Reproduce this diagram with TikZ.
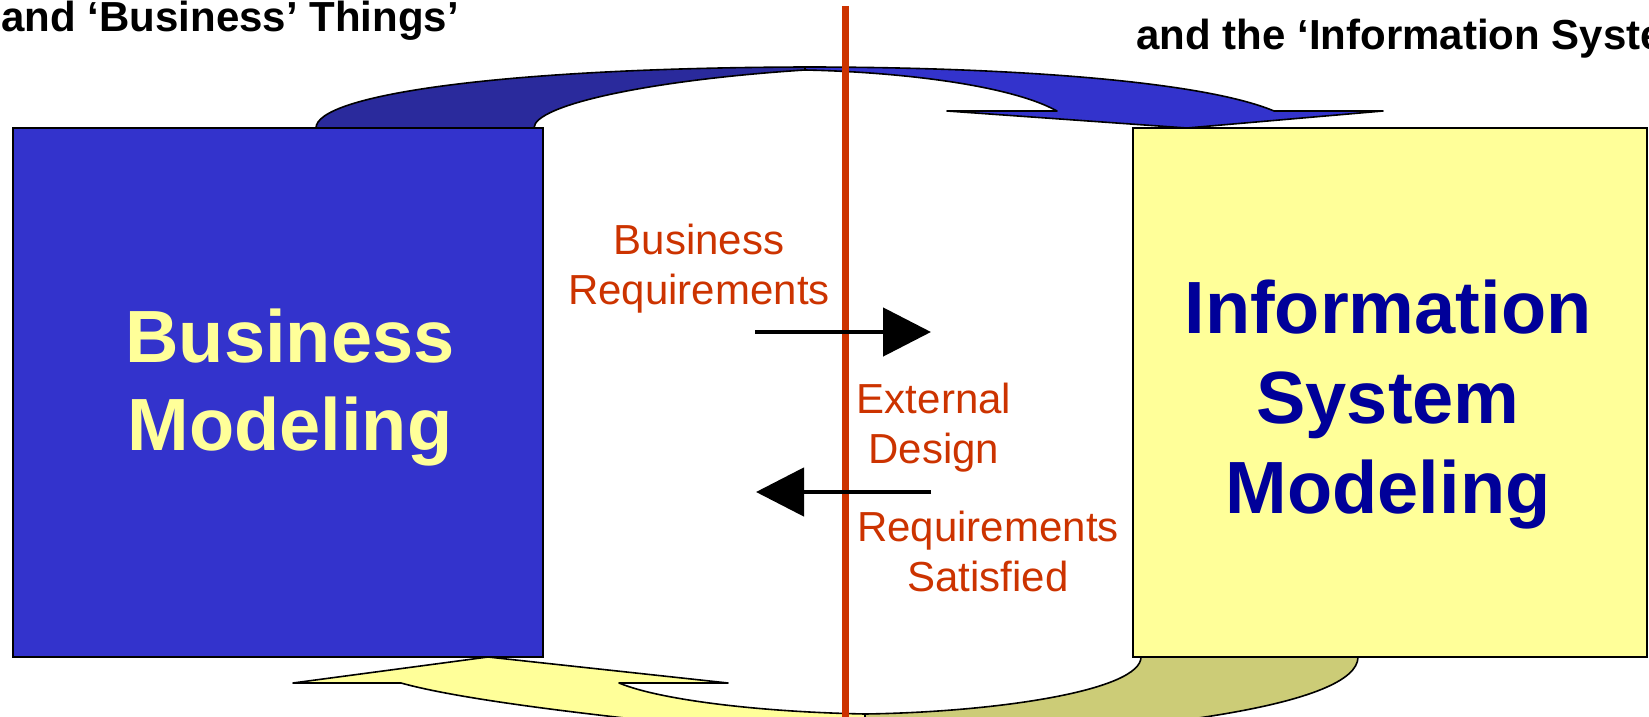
\documentclass[tikz,border=0pt]{standalone}
\usepackage{fontspec}
\setmainfont{Liberation Sans}
\usetikzlibrary{arrows.meta}
\definecolor{boxblue}{HTML}{3333CC}
\definecolor{backblue}{HTML}{2A2A9C}
\definecolor{paleyellow}{HTML}{FFFF99}
\definecolor{backolive}{HTML}{CCCC77}
\definecolor{navytext}{HTML}{000099}
\definecolor{rustred}{HTML}{CC3300}

\begin{document}
\begin{tikzpicture}[x=0.5pt,y=-0.5pt,
    model/.style={draw=black,line width=0.7pt},
    ribbon/.style={draw=black,line width=0.8pt,line join=round},
    bigname/.style={align=center,font=\bfseries\fontsize{37}{44}\selectfont},
    reqtext/.style={text=rustred,align=center,font=\fontsize{21}{25}\selectfont},
    headtext/.style={anchor=base west,inner sep=0pt,font=\bfseries\fontsize{21}{25}\selectfont},
    flow/.style={line width=2.4pt,-{Triangle[length=24pt,width=24pt]}}]
    \useasboundingbox (0,0) rectangle (1649,717);
    \begin{scope}
    \clip (0,0) rectangle (1649,717);
    % top ribbon, back side then front side with head
    \filldraw[ribbon,fill=backblue] (316,128) .. controls (316,95) and (500,68) .. (805,67)
        -- (805,70) .. controls (650,80) and (534,105) .. (534,128) -- cycle;
    \filldraw[ribbon,fill=boxblue] (805,67) .. controls (1000,67) and (1200,80) .. (1274,111)
        -- (1383,111) -- (1187,128) -- (947,111) -- (1057,111)
        .. controls (1010,85) and (900,72) .. (805,70) -- cycle;
    % bottom ribbon
    \filldraw[ribbon,fill=backolive] (1141,657) .. controls (1141,690) and (1000,712) .. (865,714)
        -- (865,742) .. controls (1150,735) and (1358,705) .. (1358,657) -- cycle;
    \filldraw[ribbon,fill=paleyellow] (488,657) -- (728,683) -- (619,683)
        .. controls (660,700) and (760,712) .. (865,714)
        -- (865,742) .. controls (680,725) and (480,705) .. (401,683) -- (293,683) -- cycle;
    \end{scope}
    \filldraw[model,fill=boxblue] (13,128) rectangle (543,657);
    \filldraw[model,fill=paleyellow] (1133,128) rectangle (1647,657);
    \draw[rustred,line width=3.5pt] (845,6) -- (845,717);

    \node[bigname,text=paleyellow] (busname) at (290,388) {Business\\Modeling};
    \node[bigname,text=navytext,font=\bfseries\fontsize{37}{45}\selectfont] (isname) at (1388,405) {Information\\System\\Modeling};
    \node[reqtext] (busreq) at (699,269) {Business\\Requirements};
    \node[reqtext] (extdes) at (934,428) {External\\Design};
    \node[reqtext] (reqsat) at (988,551) {Requirements\\Satisfied};
    \node[headtext] (bushead) at (1,32) {and ‘Business’ Things’};
    \node[headtext] (ishead) at (1136,50) {and the ‘Information System’};

    \coordinate (toIS) at (931,332);
    \coordinate (fromBus) at (755,332);
    \coordinate (toBus) at (756,492);
    \coordinate (fromIS) at (931,492);
    \draw[flow] (fromBus) -- (toIS);
    \draw[flow] (fromIS) -- (toBus);
\end{tikzpicture}
\end{document}
